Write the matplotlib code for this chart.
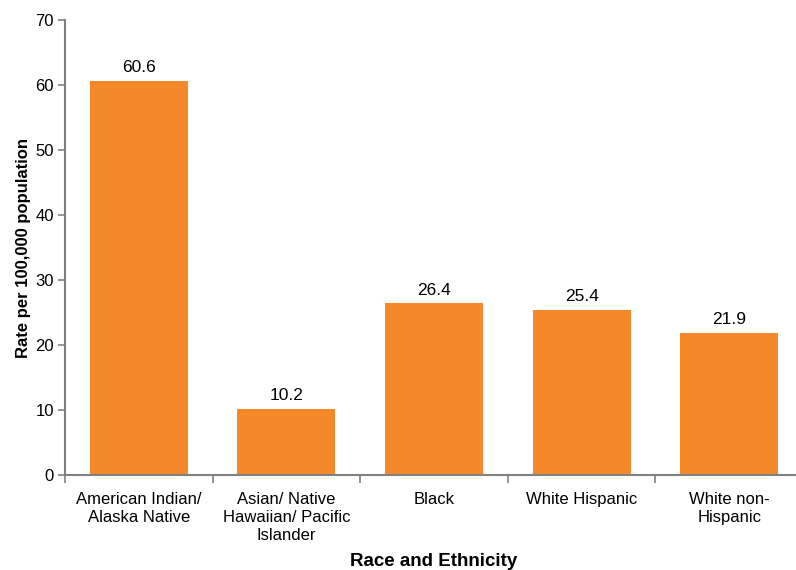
import matplotlib
matplotlib.use("Agg")
import matplotlib.pyplot as plt
import numpy as np

categories = ["American Indian/\nAlaska Native", "Asian/ Native\nHawaiian/ Pacific\nIslander",
              "Black", "White Hispanic", "White non-\nHispanic"]
values = [60.6, 10.2, 26.4, 25.4, 21.9]
labels = ["60.6", "10.2", "26.4", "25.4", "21.9"]

plt.rcParams['font.family'] = ['Liberation Sans', 'DejaVu Sans']

fig = plt.figure(figsize=(7.96, 5.70), dpi=100)
ax = fig.add_axes([65/796, 1-475/570, 738/796, 455/570])

x = np.arange(len(categories))
bars = ax.bar(x, values, width=0.665, color="#F5882A", zorder=2)
for xi, v, lab in zip(x, values, labels):
    ax.text(xi, v + 0.9, lab, ha="center", va="bottom", fontsize=12.5, color="#000000")

ax.set_xlim(-0.5, len(categories) - 0.5)
ax.set_ylim(0, 70)
ax.set_yticks(range(0, 71, 10))
ax.tick_params(axis='y', labelsize=12, length=5, color="#808080", width=1.2, pad=3)
ax.set_xticks(x)
ax.set_xticklabels(categories, fontsize=12, linespacing=1.28)
ax.tick_params(axis='x', length=0, pad=12)
ax.set_xticks(np.arange(-0.5, len(categories), 1.0), minor=True)
ax.tick_params(axis='x', which='minor', length=6, color="#808080", width=1.2)

for s in ["top", "right"]:
    ax.spines[s].set_visible(False)
for s in ["left", "bottom"]:
    ax.spines[s].set_color("#808080")
    ax.spines[s].set_linewidth(1.5)

ax.set_ylabel("Rate per 100,000 population", fontsize=12, fontweight="bold", labelpad=3)
ax.set_xlabel("Race and Ethnicity", fontsize=13.5, fontweight="bold", labelpad=7)

fig.savefig("out.png", dpi=100)
